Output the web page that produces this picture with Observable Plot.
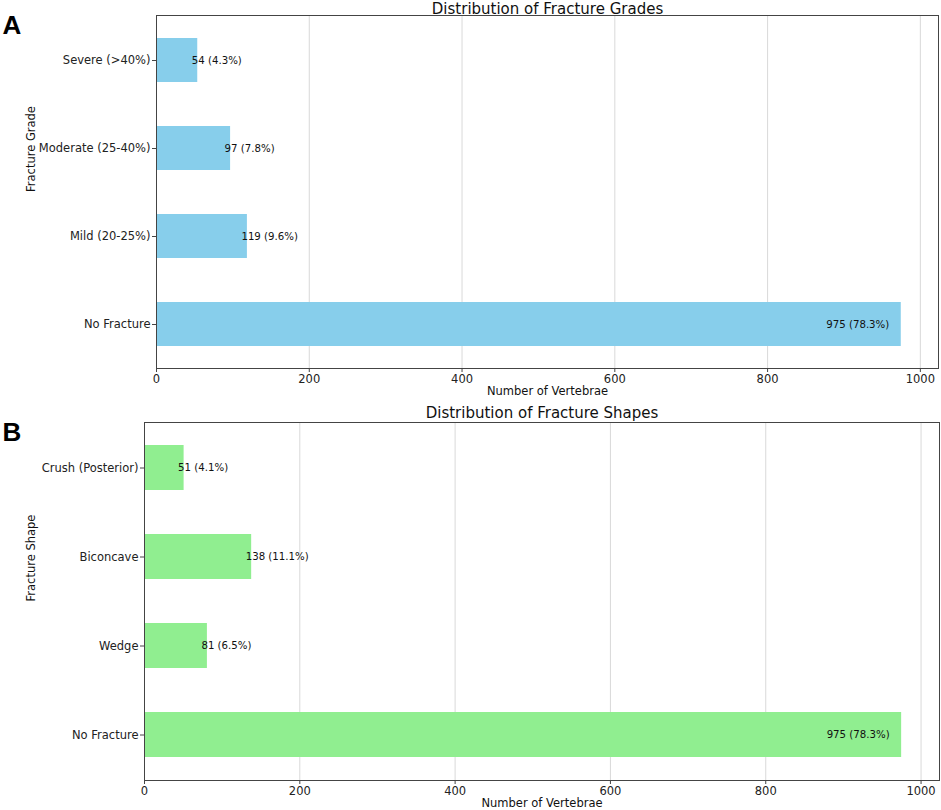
<!DOCTYPE html>
<html>
<head>
<meta charset="utf-8">
<script src="https://cdn.jsdelivr.net/npm/d3@7"></script>
<script src="https://cdn.jsdelivr.net/npm/@observablehq/plot@0.6"></script>
<style>
  html, body { margin: 0; padding: 0; background: #fff; }
  #root { position: relative; width: 941px; height: 810px; overflow: hidden; }
  .panel { position: absolute; left: 0; }
  svg { font-family: "DejaVu Sans", sans-serif; overflow: visible; }
</style>
</head>
<body>
<div id="root">
  <div id="pa" class="panel" style="top:0px"></div>
  <div id="pb" class="panel" style="top:405px"></div>
</div>
<script>
// Panel A: fracture grades (top to bottom)
const gradeCategories = ["Severe (>40%)", "Moderate (25-40%)", "Mild (20-25%)", "No Fracture"];
const gradeCounts = [54, 97, 119, 975];

// Panel B: fracture shapes (top to bottom)
const shapeCategories = ["Crush (Posterior)", "Biconcave", "Wedge", "No Fracture"];
const shapeCounts = [51, 138, 81, 975];

const xTicks = [0, 200, 400, 600, 800, 1000];

function makePanel(cats, counts, color, title, yLabel, letter, opts) {
  const total = d3.sum(counts);
  const maxV = d3.max(counts);
  const data = cats.map((c, i) => ({
    cat: c,
    count: counts[i],
    label: `${counts[i]} (${(counts[i] / total * 100).toFixed(1)}%)`,
    isMax: counts[i] === maxV
  }));
  return Plot.plot({
    width: 941,
    height: 405,
    marginTop: opts.mt,
    marginBottom: opts.mb,
    marginLeft: opts.ml,
    marginRight: opts.mr,
    style: { fontFamily: "DejaVu Sans, sans-serif", fontSize: "11.5px", color: "#222", background: "#fff" },
    x: { domain: [0, maxV * 1.05], ticks: xTicks, label: null, tickFormat: d => String(d) },
    y: { domain: cats, paddingInner: 0.5, paddingOuter: 0.25, label: null },
    marks: [
      Plot.gridX(xTicks, { stroke: "#d9d9d9", strokeOpacity: 1, strokeWidth: 1 }),
      Plot.barX(data, { x: "count", y: "cat", fill: color }),
      Plot.text(data.filter(d => !d.isMax), { x: "count", y: "cat", text: "label", textAnchor: "start", dx: -6, fontSize: 10.2, fill: "#111" }),
      Plot.text(data.filter(d => d.isMax), { x: "count", y: "cat", text: "label", textAnchor: "end", dx: -12, fontSize: 10.2, fill: "#111" }),
      Plot.frame({ stroke: "#444", strokeWidth: 1 }),
      Plot.axisX(xTicks, { tickSize: 4, tickPadding: 2, fontSize: 11.5, stroke: "#444", label: null, tickFormat: d => String(d) }),
      Plot.axisY({ tickSize: 4, tickPadding: 2, fontSize: 11.5, stroke: "#444", label: null }),
      Plot.text([title], { frameAnchor: "top", dy: opts.titleDy, lineAnchor: "middle", fontSize: 15, fill: "#111" }),
      Plot.text(["Number of Vertebrae"], { frameAnchor: "bottom", dy: 23, lineAnchor: "middle", fontSize: 11.5, fill: "#111" }),
      Plot.text([yLabel], { frameAnchor: "left", dx: opts.yLabelDx, rotate: -90, lineAnchor: "middle", fontSize: 11.5, fill: "#111" }),
      Plot.text([letter], { frameAnchor: "top-left", dx: opts.letterDx, dy: 0, lineAnchor: "top", textAnchor: "start", fontSize: 26, fontWeight: "bold", fontFamily: "Liberation Sans, Arial, sans-serif", fill: "#000" })
    ]
  });
}

document.getElementById("pa").appendChild(
  makePanel(gradeCategories, gradeCounts, "#87CEEB", "Distribution of Fracture Grades", "Fracture Grade", "A",
    { mt: 15, mb: 37, ml: 156, mr: 3, titleDy: -6.5, yLabelDx: -125, letterDx: -154 })
);
document.getElementById("pb").appendChild(
  makePanel(shapeCategories, shapeCounts, "#90EE90", "Distribution of Fracture Shapes", "Fracture Shape", "B",
    { mt: 17, mb: 30, ml: 144, mr: 2, titleDy: -9, yLabelDx: -113, letterDx: -142 })
);
</script>
</body>
</html>
